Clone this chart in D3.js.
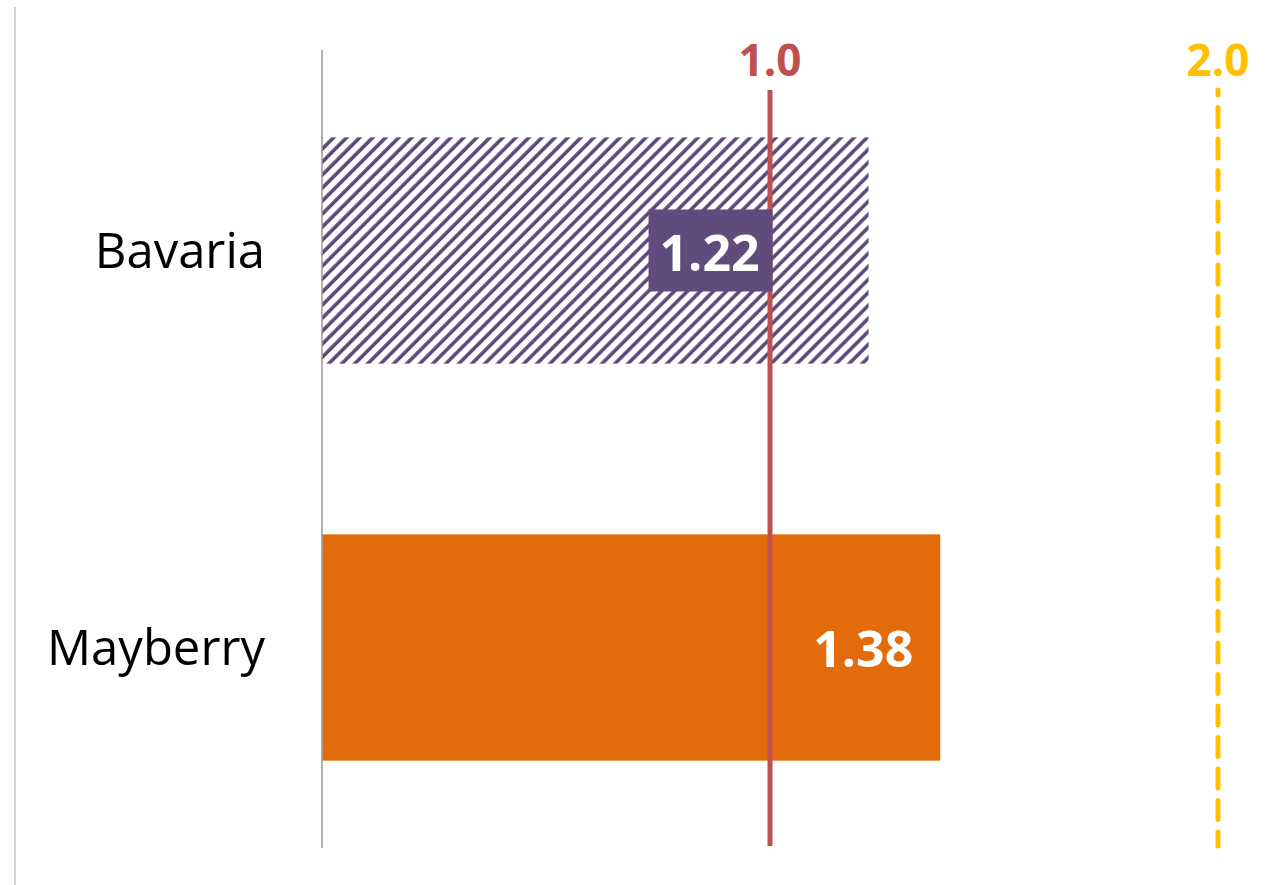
<!DOCTYPE html>
<html>
<head>
<meta charset="utf-8">
<script src="https://cdn.jsdelivr.net/npm/d3@7"></script>
<style>
  body { margin: 0; background: #fff; }
  svg { display: block; font-family: "Open Sans", sans-serif; }
</style>
</head>
<body>
<svg id="chart" width="1266" height="885"></svg>
<script>
const categories = ["Bavaria", "Mayberry"];
const values = [1.22, 1.38];
const refValues = [1.0, 2.0];
const refLabels = ["1.0", "2.0"];

const width = 1266,
  height = 885;

const svg = d3.select("#chart");

const x = d3.scaleLinear().domain([0, 2]).range([322, 1218]);
const y = d3
  .scaleBand()
  .domain(categories)
  .range([50, 848])
  .paddingInner(0.43)
  .paddingOuter(0.22);

const barColor = { Bavaria: "url(#hatch)", Mayberry: "#e36c0a" };
const refColor = ["#c0504d", "#ffc000"];

// hatch pattern for Bavaria
const hs = 9.2;
const defs = svg.append("defs");
const pat = defs
  .append("pattern")
  .attr("id", "hatch")
  .attr("patternUnits", "userSpaceOnUse")
  .attr("width", hs)
  .attr("height", hs)
  .attr("patternTransform", "rotate(45)");
pat.append("rect").attr("width", hs).attr("height", hs).attr("fill", "#fff");
pat
  .append("line")
  .attr("x1", 2)
  .attr("x2", 2)
  .attr("y1", 0)
  .attr("y2", hs)
  .attr("stroke", "#5c4879")
  .attr("stroke-width", 3.6);

// frame line on the left
svg
  .append("line")
  .attr("x1", 15)
  .attr("x2", 15)
  .attr("y1", 7)
  .attr("y2", height)
  .attr("stroke", "#d4d4d4")
  .attr("stroke-width", 2);

const data = categories.map((c, i) => ({ cat: c, value: values[i] }));

svg
  .selectAll(".bar")
  .data(data)
  .join("rect")
  .attr("class", "bar")
  .attr("x", x(0))
  .attr("y", (d) => y(d.cat))
  .attr("width", (d) => x(d.value) - x(0))
  .attr("height", y.bandwidth())
  .attr("fill", (d) => barColor[d.cat]);

// category axis line
svg
  .append("line")
  .attr("x1", x(0))
  .attr("x2", x(0))
  .attr("y1", 50)
  .attr("y2", 848)
  .attr("stroke", "#9a9a9a")
  .attr("stroke-width", 1.5);

// category labels
svg
  .selectAll(".cat")
  .data(categories)
  .join("text")
  .attr("class", "cat")
  .attr("x", 265)
  .attr("y", (d) => y(d) + y.bandwidth() / 2)
  .attr("dy", "0.35em")
  .attr("text-anchor", "end")
  .attr("font-size", 49)
  .attr("fill", "#000")
  .text((d) => d);

// reference lines
refValues.forEach((v, i) => {
  svg
    .append("line")
    .attr("x1", x(v))
    .attr("x2", x(v))
    .attr("y1", 90)
    .attr("y2", 846)
    .attr("stroke", refColor[i])
    .attr("stroke-width", 5)
    .attr("stroke-linecap", i === 0 ? "butt" : "round")
    .attr("stroke-dasharray", i === 0 ? null : "19 12.5")
    .attr("stroke-dashoffset", i === 0 ? null : 14);

  svg
    .append("text")
    .attr("x", x(v))
    .attr("y", 76)
    .attr("text-anchor", "middle")
    .attr("font-size", 44)
    .attr("font-weight", "bold")
    .attr("fill", refColor[i])
    .text(refLabels[i]);
});

// value labels
const fmt = d3.format(".2f");
const bav = data[0];
const cy0 = y(bav.cat) + y.bandwidth() / 2;
svg
  .append("rect")
  .attr("x", x(bav.value) - 220)
  .attr("y", cy0 - 41)
  .attr("width", 124)
  .attr("height", 82)
  .attr("fill", "#5f4b7c");
svg
  .append("text")
  .attr("x", x(bav.value) - 159)
  .attr("y", cy0)
  .attr("dy", "0.42em")
  .attr("text-anchor", "middle")
  .attr("font-size", 50)
  .attr("font-weight", "bold")
  .attr("fill", "#fff")
  .text(fmt(bav.value));

const may = data[1];
svg
  .append("text")
  .attr("x", x(may.value) - 27)
  .attr("y", y(may.cat) + y.bandwidth() / 2)
  .attr("dy", "0.38em")
  .attr("text-anchor", "end")
  .attr("font-size", 50)
  .attr("font-weight", "bold")
  .attr("fill", "#fff")
  .text(fmt(may.value));
</script>
</body>
</html>
